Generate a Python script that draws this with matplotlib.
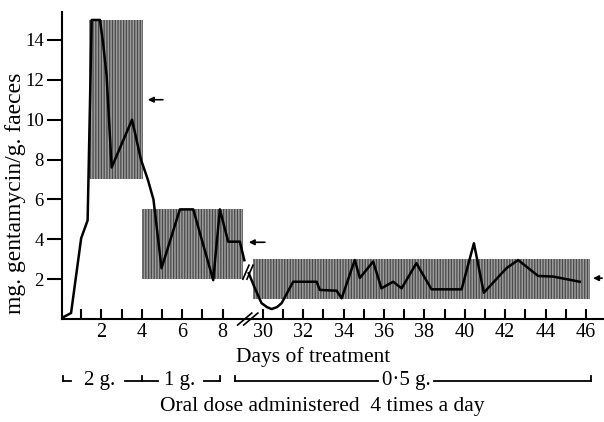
import matplotlib.pyplot as plt
from matplotlib.lines import Line2D

plt.rcParams['font.family'] = ['Liberation Serif', 'DejaVu Serif']
plt.rcParams['hatch.linewidth'] = 0.9

# days and mg gentamycin / g faeces
days_a = [0.03, 0.5, 1.0, 1.32, 1.52, 1.93, 2.08, 2.26, 2.51, 3.52, 3.96, 4.3, 4.58, 4.98,
          5.89, 6.55, 7.54, 7.87, 8.28, 8.86, 9.08]
vals_a = [0.05, 0.3, 4.05, 4.95, 15.0, 15.0, 13.9, 12.2, 7.6, 10.0, 8.0, 7.0, 6.0, 2.55,
          5.5, 5.5, 1.95, 5.5, 3.88, 3.88, 2.95]
days_b = [29.3, 29.6, 29.93, 30.2, 30.43, 30.7, 30.93, 31.5, 32.66, 32.82, 33.65, 33.9,
          34.55, 34.8, 35.46, 35.87, 36.45, 36.87, 37.6, 38.35, 39.84, 40.45, 40.94,
          42.06, 42.64, 43.63, 44.37, 45.69]
vals_b = [2.3, 1.55, 0.8, 0.6, 0.5, 0.6, 0.8, 1.87, 1.87, 1.46, 1.42, 1.04,
          2.96, 2.06, 2.88, 1.54, 1.87, 1.54, 2.8, 1.49, 1.49, 3.8, 1.32,
          2.55, 2.96, 2.16, 2.13, 1.87]

# shaded ranges: (day start, day end, low, high)
boxes = [(1.4, 4.05, 7.0, 15.0), (4.0, 9.0, 2.0, 5.5), (29.5, 46.2, 1.0, 3.0)]
# arrows: (level, day tail, day head)
arrows = [(11.0, 5.05, 4.3), (3.85, 30.1, 29.3), (2.05, 46.8, 46.35)]

tick_days = list(range(1, 9)) + list(range(30, 47))
label_days = [2, 4, 6, 8, 30, 32, 34, 36, 38, 40, 42, 44, 46]
yticks = [2, 4, 6, 8, 10, 12, 14]


def to_x(d):
    # days 9..29 are cut out of the axis
    return d if d < 20 else d - 20


fig = plt.figure(figsize=(6.04, 4.22), dpi=100)
ax = fig.add_axes([0.1026, 0.244, 0.896, 0.7276])

for d0, d1, lo, hi in boxes:
    ax.fill_between([to_x(d0), to_x(d1)], lo, hi, facecolor='#9c9c9c',
                    edgecolor='#4a4a4a', hatch='||||||', linewidth=0, zorder=1)

ax.plot([to_x(d) for d in days_a], vals_a, color='black', lw=1.8, zorder=3)
ax.plot([to_x(d) for d in days_b], vals_b, color='black', lw=1.8, zorder=3)

# break marks on the curve
for dx in (0.0, 0.2):
    ax.plot([9.01 + dx, 9.31 + dx], [2.0, 2.7], color='black', lw=1.2, zorder=4,
            clip_on=False)

for lvl, t, h in arrows:
    ax.annotate('', xy=(to_x(h), lvl), xytext=(to_x(t), lvl),
                arrowprops=dict(arrowstyle='-|>', color='black', lw=1.2,
                                mutation_scale=8, shrinkA=0, shrinkB=0),
                annotation_clip=False)

ax.set_xlim(0.05, 26.85)
ax.set_ylim(0, 15.4)
ax.spines['top'].set_visible(False)
ax.spines['right'].set_visible(False)
for s in ('left', 'bottom'):
    ax.spines[s].set_linewidth(1.5)

ax.set_xticks([to_x(d) for d in tick_days])
ax.set_xticklabels([str(d) if d in label_days else '' for d in tick_days])
ax.tick_params(axis='x', direction='in', length=7, width=1.5, labelsize=14.5, pad=3)
ax.set_yticks(yticks)
ax.tick_params(axis='y', direction='out', length=11, width=1.5, labelsize=13.5, pad=2)
ax.set_ylabel('mg. gentamycin/g. faeces', fontsize=17, va='center')
ax.yaxis.set_label_coords(-0.085, 0.41)

# axis break on x
for dx in (0.0, 0.3):
    ax.plot([8.75 + dx, 9.45 + dx], [-0.3, 0.3], color='black', lw=1.2, clip_on=False)

H, W = 422, 604
fig.text(313 / W, 1 - 357 / H, 'Days of treatment', ha='center', va='center', fontsize=15.5)
fig.text(322 / W, 1 - 407 / H, 'Oral dose administered  4 times a day', ha='center',
         va='center', fontsize=15.5)

# dose brackets (figure pixels)
yb = 381


def seg(x0, x1, y0, y1):
    fig.add_artist(Line2D([x0 / W, x1 / W], [1 - y0 / H, 1 - y1 / H], color='black', lw=1.3))


seg(63, 63, yb - 5, yb)
seg(63, 71, yb, yb)
fig.text(100 / W, 1 - (yb - 1) / H, '2 g.', ha='center', va='center', fontsize=15)
seg(125, 158, yb, yb)
seg(142, 142, yb - 5, yb)
fig.text(180 / W, 1 - (yb - 1) / H, '1 g.', ha='center', va='center', fontsize=15)
seg(204, 220, yb, yb)
seg(220, 220, yb - 5, yb)
seg(235, 235, yb - 5, yb)
seg(235, 378, yb, yb)
fig.text(406 / W, 1 - (yb - 1) / H, '0·5 g.', ha='center', va='center', fontsize=15)
seg(434, 591, yb, yb)
seg(591, 591, yb - 5, yb)

fig.savefig('out.png', dpi=100)
